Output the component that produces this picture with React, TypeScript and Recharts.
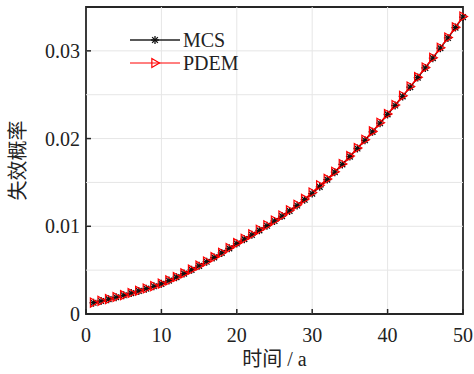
import React from "react"
import { Legend, Line, LineChart, ReferenceArea, ReferenceLine, XAxis, YAxis } from "recharts"

// time in years
const years = [
  1, 2, 3, 4, 5, 6, 7, 8, 9, 10, 11, 12, 13, 14, 15, 16, 17, 18, 19, 20, 21, 22, 23, 24, 25,
  26, 27, 28, 29, 30, 31, 32, 33, 34, 35, 36, 37, 38, 39, 40, 41, 42, 43, 44, 45, 46, 47, 48, 49, 50,
]

// failure probability, Monte Carlo
const mcs = [
  0.00128, 0.00148, 0.00169, 0.00191, 0.00214, 0.00238, 0.00263, 0.00289, 0.00316, 0.00344,
  0.00381, 0.0042, 0.00461, 0.00504, 0.00549, 0.00596, 0.00645, 0.00696, 0.00749, 0.00804,
  0.00853, 0.00903, 0.00954, 0.01006, 0.0106, 0.01116, 0.01175, 0.01237, 0.01303, 0.01373,
  0.0145, 0.01532, 0.01617, 0.01705, 0.01795, 0.01887, 0.01981, 0.02077, 0.02175, 0.02275,
  0.02377, 0.02481, 0.02587, 0.02695, 0.02805, 0.02917, 0.03031, 0.03147, 0.03265, 0.03385,
]

// failure probability, PDEM
const pdem = [
  0.0013, 0.0015, 0.0017, 0.00193, 0.00215, 0.0024, 0.00265, 0.0029, 0.00318, 0.00346,
  0.00383, 0.00422, 0.00463, 0.00506, 0.00551, 0.00598, 0.00648, 0.00699, 0.00752, 0.00808,
  0.00858, 0.00908, 0.0096, 0.01012, 0.01066, 0.01122, 0.01182, 0.01245, 0.01312, 0.01385,
  0.01468, 0.0154, 0.01622, 0.0171, 0.018, 0.01893, 0.01986, 0.02082, 0.0218, 0.0228,
  0.02383, 0.02487, 0.02593, 0.027, 0.0281, 0.02922, 0.03036, 0.03152, 0.0327, 0.03392,
]

const xTicks = [0, 10, 20, 30, 40, 50]
const yTicks = [0, 0.01, 0.02, 0.03]
const gridX = [10, 20, 30, 40]
const gridY = [0.005, 0.01, 0.015, 0.02, 0.025, 0.03]

const data = years.map((t, i) => ({ t, mcs: mcs[i], pdem: pdem[i] }))

const serif = "'Liberation Serif', 'Times New Roman', 'Noto Sans CJK SC', serif"
const axisColor = "#262626"
const txt = { fontFamily: serif, fill: "#222" }

function Star({ cx, cy, size = 4 }: { cx: number; cy: number; size?: number }) {
  const d = size * 0.72
  return (
    <g stroke="#111" strokeWidth={1.3}>
      <line x1={cx - size} y1={cy} x2={cx + size} y2={cy} />
      <line x1={cx} y1={cy - size} x2={cx} y2={cy + size} />
      <line x1={cx - d} y1={cy - d} x2={cx + d} y2={cy + d} />
      <line x1={cx - d} y1={cy + d} x2={cx + d} y2={cy - d} />
    </g>
  )
}

function Tri({ cx, cy, size = 4.5 }: { cx: number; cy: number; size?: number }) {
  return (
    <polygon
      points={`${cx + size},${cy} ${cx - size * 0.7},${cy - size} ${cx - size * 0.7},${cy + size}`}
      fill="none"
      stroke="#ff0000"
      strokeWidth={1.2}
    />
  )
}

const XTick = (props: any) => {
  const { x, y, payload } = props
  return (
    <g>
      <line x1={x} y1={y} x2={x} y2={y - 5} stroke={axisColor} strokeWidth={1.5} />
      <text x={x} y={y + 28} textAnchor="middle" style={{ ...txt, fontSize: 20 }}>
        {payload.value}
      </text>
    </g>
  )
}

const YTick = (props: any) => {
  const { x, y, payload } = props
  return (
    <g>
      <line x1={x} y1={y} x2={x + 5} y2={y} stroke={axisColor} strokeWidth={1.5} />
      <text x={x - 6} y={y + 7} textAnchor="end" style={{ ...txt, fontSize: 20 }}>
        {payload.value}
      </text>
    </g>
  )
}

const renderLegend = () => (
  <svg width={130} height={50}>
    <line x1={5} y1={12} x2={55} y2={12} stroke="#222" strokeWidth={1.5} />
    <Star cx={30} cy={12} />
    <text x={58} y={19} style={{ ...txt, fontSize: 20 }}>MCS</text>
    <line x1={5} y1={35} x2={55} y2={35} stroke="#ff0000" strokeWidth={1} />
    <Tri cx={30} cy={35} />
    <text x={58} y={42} style={{ ...txt, fontSize: 20 }}>PDEM</text>
  </svg>
)

export default function App() {
  return (
    <div style={{ position: "absolute", left: 0, top: 0, width: 474, height: 374, background: "#fff" }}>
      <LineChart width={474} height={374} data={data} margin={{ top: 7, right: 11, left: 0, bottom: 0 }}>
        {gridY.map((v) => (
          <ReferenceLine key={"gy" + v} y={v} stroke="#e6e6e6" strokeWidth={1} />
        ))}
        {gridX.map((v) => (
          <ReferenceLine key={"gx" + v} x={v} stroke="#e6e6e6" strokeWidth={1} />
        ))}
        <XAxis
          dataKey="t"
          type="number"
          domain={[0, 50]}
          ticks={xTicks}
          axisLine={false}
          tickLine={false}
          tickSize={0}
          tickMargin={0}
          height={60}
          tick={<XTick />}
          interval={0}
          label={{
            value: "时间 / a",
            position: "insideBottom",
            offset: 8,
            style: { ...txt, fontSize: 20 },
          }}
        />
        <YAxis
          type="number"
          domain={[0, 0.035]}
          ticks={yTicks}
          axisLine={false}
          tickLine={false}
          tickSize={0}
          tickMargin={0}
          width={86}
          tick={<YTick />}
          interval={0}
          allowDataOverflow
          label={{
            value: "失效概率",
            angle: -90,
            position: "insideLeft",
            offset: 18,
            style: { ...txt, fontSize: 20, textAnchor: "middle" },
          }}
        />
        <Legend
          content={renderLegend}
          layout="horizontal"
          verticalAlign="middle"
          align="center"
          wrapperStyle={{ left: 125, top: 28, width: 130, height: 50 }}
        />
        <Line
          dataKey="mcs"
          stroke="#222"
          strokeWidth={1.4}
          isAnimationActive={false}
          dot={(p: any) => <Star key={"m" + p.index} cx={p.cx} cy={p.cy} />}
        />
        <Line
          dataKey="pdem"
          stroke="#ff0000"
          strokeWidth={1.3}
          isAnimationActive={false}
          dot={(p: any) => <Tri key={"p" + p.index} cx={p.cx} cy={p.cy} />}
        />
        <ReferenceArea
          x1={0}
          x2={50}
          y1={0}
          y2={0.035}
          fill="none"
          fillOpacity={0}
          stroke={axisColor}
          strokeWidth={1.8}
          ifOverflow="visible"
        />
      </LineChart>
    </div>
  )
}
